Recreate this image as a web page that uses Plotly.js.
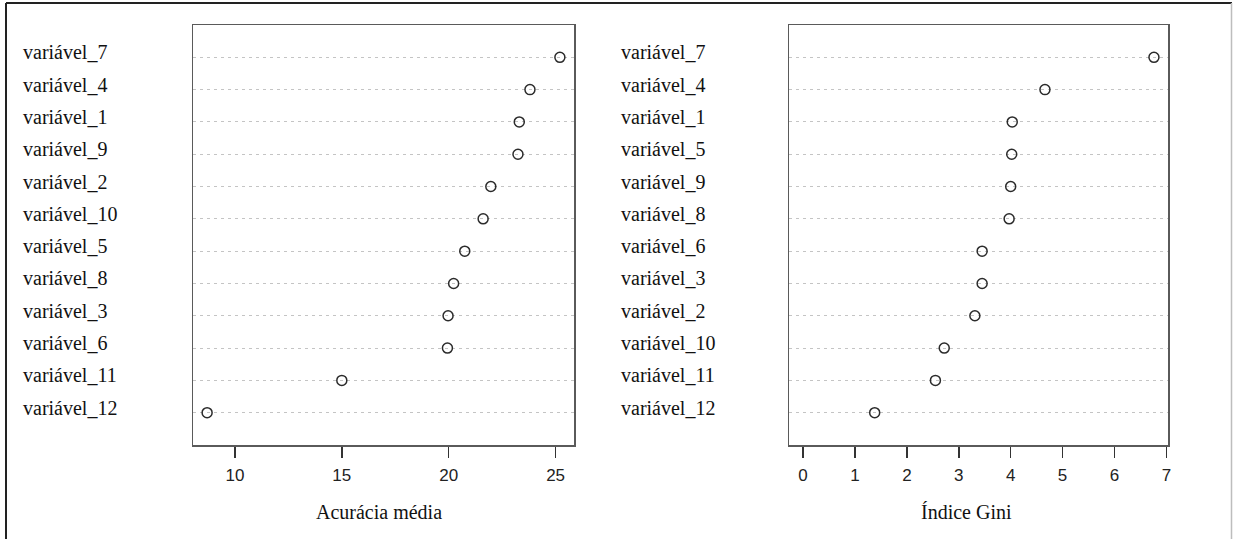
<!DOCTYPE html>
<html>
<head>
<meta charset="utf-8">
<script src="https://cdn.plot.ly/plotly-3.0.1.min.js"></script>
<style>
  html, body { margin: 0; padding: 0; background: #ffffff; }
  #chart { width: 1233px; height: 539px; }
</style>
</head>
<body>
<div id="chart"></div>
<script>
// Variable importance from a random forest: mean decrease in accuracy and Gini index
const accuracyVars = ["variável_7", "variável_4", "variável_1", "variável_9", "variável_2", "variável_10",
                      "variável_5", "variável_8", "variável_3", "variável_6", "variável_11", "variável_12"];
const accuracyValues = [25.2, 23.8, 23.3, 23.24, 21.97, 21.61, 20.75, 20.23, 19.97, 19.94, 15.0, 8.7];

const giniVars = ["variável_7", "variável_4", "variável_1", "variável_5", "variável_9", "variável_8",
                  "variável_6", "variável_3", "variável_2", "variável_10", "variável_11", "variável_12"];
const giniValues = [6.76, 4.66, 4.03, 4.02, 4.0, 3.97, 3.45, 3.45, 3.31, 2.72, 2.55, 1.38];

const accuracyTicks = [10, 15, 20, 25];
const giniTicks = [0, 1, 2, 3, 4, 5, 6, 7];

const W = 1233, H = 539;
const px = x => x / W;
const py = y => 1 - y / H;

// dotchart-style range: data span padded by 4% on both sides
function paddedRange(lo, hi) {
  const pad = (hi - lo) * 0.04;
  return [lo - pad, hi + pad];
}
const accRange = paddedRange(Math.min(...accuracyValues), Math.max(...accuracyValues));
const giniRange = paddedRange(0, Math.max(...giniValues));

const markerStyle = {
  symbol: "circle-open",
  size: 10,
  color: "#2b2b2b",
  line: { width: 1.5, color: "#2b2b2b" }
};

const traces = [
  { type: "scatter", mode: "markers", x: accuracyValues, y: accuracyVars,
    xaxis: "x", yaxis: "y", marker: markerStyle, hoverinfo: "x+y", showlegend: false },
  { type: "scatter", mode: "markers", x: giniValues, y: giniVars,
    xaxis: "x2", yaxis: "y2", marker: markerStyle, hoverinfo: "x+y", showlegend: false }
];

const tickFont = { family: "Liberation Sans, Arial, sans-serif", size: 17, color: "#222222" };
const serif = "Liberation Serif, Times New Roman, serif";

function xAxis(range, ticks, domain) {
  return {
    domain: domain, range: range, tickvals: ticks, ticktext: ticks.map(String),
    ticks: "outside", ticklen: 11, tickwidth: 1.5, tickcolor: "#333333",
    ticklabelstandoff: 3, tickfont: tickFont,
    showline: true, mirror: true, linecolor: "#5a5a5a", linewidth: 1.5,
    showgrid: false, zeroline: false, fixedrange: true
  };
}
function yAxis(cats, anchor) {
  return {
    domain: [py(445), py(25)], anchor: anchor,
    type: "category", categoryorder: "array", categoryarray: cats,
    range: [cats.length, -1],
    showticklabels: false, ticks: "",
    showline: true, mirror: true, linecolor: "#5a5a5a", linewidth: 1.5,
    showgrid: true, gridcolor: "#c4c4c4", gridwidth: 1, griddash: "3px,4px",
    zeroline: false, fixedrange: true
  };
}

// Row labels, left aligned as in a dotchart
const annotations = [];
accuracyVars.forEach(v => annotations.push({
  xref: "paper", yref: "y", x: px(21), y: v, text: v, showarrow: false,
  xanchor: "left", yanchor: "middle", yshift: 5,
  font: { family: serif, size: 20, color: "#111111" }
}));
giniVars.forEach(v => annotations.push({
  xref: "paper", yref: "y2", x: px(619), y: v, text: v, showarrow: false,
  xanchor: "left", yanchor: "middle", yshift: 5,
  font: { family: serif, size: 20, color: "#111111" }
}));
// Axis titles
annotations.push({
  xref: "paper", yref: "paper", x: px(379), y: py(512), text: "Acurácia média",
  showarrow: false, xanchor: "center", yanchor: "middle",
  font: { family: serif, size: 20, color: "#111111" }
});
annotations.push({
  xref: "paper", yref: "paper", x: px(966), y: py(512), text: "Índice Gini",
  showarrow: false, xanchor: "center", yanchor: "middle",
  font: { family: serif, size: 20, color: "#111111" }
});

// Outer frame around the figure
const shapes = [
  { type: "line", xref: "paper", yref: "paper", x0: px(6), x1: px(1232), y0: py(3), y1: py(3),
    line: { color: "#222222", width: 2 } },
  { type: "line", xref: "paper", yref: "paper", x0: px(6), x1: px(6), y0: py(3), y1: 0,
    line: { color: "#222222", width: 2 } },
  { type: "line", xref: "paper", yref: "paper", x0: px(1231.5), x1: px(1231.5), y0: py(3), y1: 0,
    line: { color: "#bdbdbd", width: 1.5 } }
];

const layout = {
  width: W, height: H,
  margin: { l: 0, r: 0, t: 0, b: 0, pad: 0 },
  paper_bgcolor: "#ffffff", plot_bgcolor: "#ffffff",
  showlegend: false,
  xaxis: xAxis(accRange, accuracyTicks, [px(193), px(574)]),
  yaxis: yAxis(accuracyVars, "x"),
  xaxis2: Object.assign(xAxis(giniRange, giniTicks, [px(789), px(1168)]), { anchor: "y2" }),
  yaxis2: yAxis(giniVars, "x2"),
  annotations: annotations,
  shapes: shapes
};
layout.xaxis.anchor = "y";

Plotly.newPlot("chart", traces, layout, { displayModeBar: false, staticPlot: true });
</script>
</body>
</html>
